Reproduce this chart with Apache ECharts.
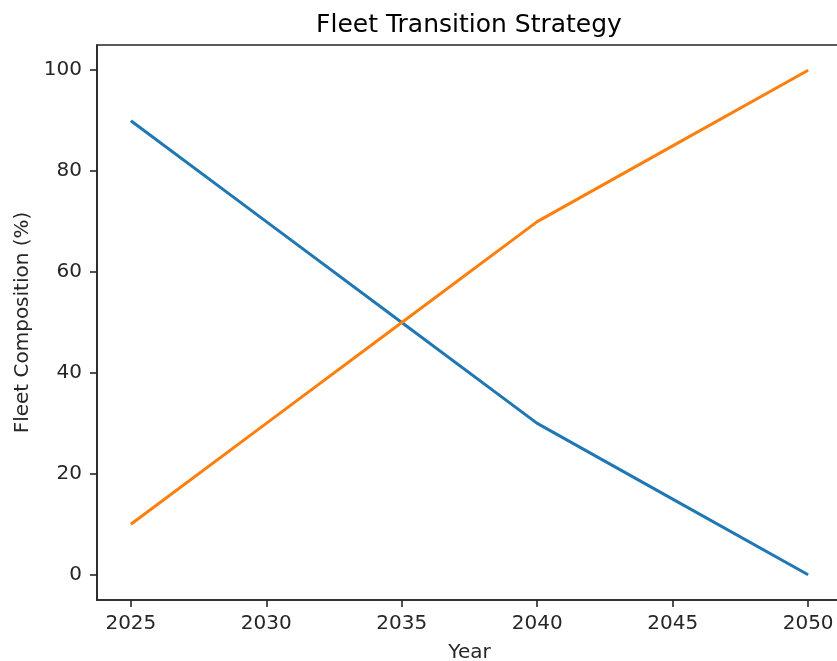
<!DOCTYPE html>
<html>
<head>
<meta charset="utf-8">
<script src="https://cdn.jsdelivr.net/npm/echarts@6/dist/echarts.min.js"></script>
<style>
  html, body { margin: 0; padding: 0; background: #fff; }
  #chart { width: 837px; height: 661px; }
</style>
</head>
<body>
<div id="chart"></div>
<script>
// data
const years = [2025, 2030, 2035, 2040, 2045, 2050];
const fleetA = [90, 70, 50, 30, 15, 0];
const fleetB = [10, 30, 50, 70, 85, 100];
const xTicks = [2025, 2030, 2035, 2040, 2045, 2050];
const yTicks = [0, 20, 40, 60, 80, 100];

const font = "DejaVu Sans";
const ink = "#262626";

const toPairs = (xs, ys) => xs.map((x, i) => [x, ys[i]]);

const chart = echarts.init(document.getElementById("chart"));
const option = {
  animation: false,
  backgroundColor: "#fff",
  title: {
    text: "Fleet Transition Strategy",
    left: 464,
    top: 8,
    textAlign: "center",
    textStyle: { fontFamily: font, fontSize: 25, fontWeight: "normal", color: "#000" },
  },
  // the right edge of the axes box runs past the picture, as in the reference
  grid: {
    left: 97,
    top: 45,
    width: 745,
    height: 555,
    outerBoundsMode: "none",
    containLabel: false,
    show: true,
    borderColor: ink,
    borderWidth: 1.6,
    backgroundColor: "transparent",
  },
  xAxis: {
    type: "value",
    min: 2023.75,
    max: 2051.25,
    name: "Year",
    nameLocation: "middle",
    nameGap: 43,
    nameTextStyle: { fontFamily: font, fontSize: 20, color: ink },
    axisLine: { onZero: false, lineStyle: { color: ink, width: 1.6 } },
    axisTick: {
      show: true,
      length: 7,
      lineStyle: { color: ink, width: 1.6 },
      customValues: xTicks,
    },
    axisLabel: {
      fontFamily: font,
      fontSize: 20,
      color: ink,
      margin: 14,
      customValues: xTicks,
      formatter: (v) => String(v),
    },
    splitLine: { show: false },
  },
  yAxis: {
    type: "value",
    min: -5,
    max: 105,
    name: "Fleet Composition (%)",
    nameLocation: "middle",
    nameGap: 64,
    nameTextStyle: { fontFamily: font, fontSize: 20, color: ink },
    axisLine: { show: true, onZero: false, lineStyle: { color: ink, width: 1.6 } },
    axisTick: {
      show: true,
      length: 7,
      lineStyle: { color: ink, width: 1.6 },
      customValues: yTicks,
    },
    axisLabel: {
      fontFamily: font,
      fontSize: 20,
      color: ink,
      margin: 15,
      customValues: yTicks,
    },
    splitLine: { show: false },
  },
  series: [
    {
      name: "Conventional",
      type: "line",
      data: toPairs(years, fleetA),
      showSymbol: false,
      lineStyle: { color: "#1f77b4", width: 3 },
      itemStyle: { color: "#1f77b4" },
      z: 2,
    },
    {
      name: "Zero Emission",
      type: "line",
      data: toPairs(years, fleetB),
      showSymbol: false,
      lineStyle: { color: "#ff7f0e", width: 3 },
      itemStyle: { color: "#ff7f0e" },
      z: 3,
    },
  ],
};
chart.setOption(option);
</script>
</body>
</html>
